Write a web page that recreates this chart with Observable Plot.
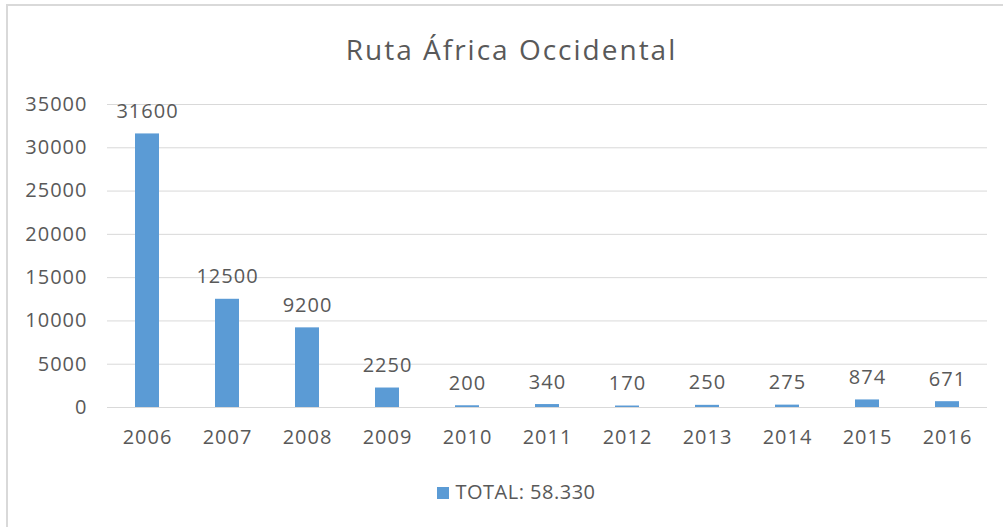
<!DOCTYPE html>
<html>
<head>
<meta charset="utf-8">
<script src="https://cdn.jsdelivr.net/npm/d3@7"></script>
<script src="https://cdn.jsdelivr.net/npm/@observablehq/plot@0.6"></script>
<style>
  html, body { margin: 0; padding: 0; background: #fff; }
  #wrap { position: relative; width: 1003px; height: 527px; overflow: hidden; font-family: "Open Sans", Lato, sans-serif; }
  #border { position: absolute; left: 6px; top: 4px; width: 1010px; height: 540px; border: 2px solid #d9d9d9; box-sizing: border-box; }
  #legend { position: absolute; top: 478px; left: 15px; width: 1003px; text-align: center; font-size: 20px; color: #595959; letter-spacing: 0.5px; }
  #legend .sw { display: inline-block; width: 12px; height: 12px; background: #5b9bd5; margin-right: 6px; vertical-align: 0px; }
  svg { position: absolute; left: 0; top: 0; }
</style>
</head>
<body>
<div id="wrap">
  <div id="border"></div>
  <div id="chart"></div>
  <div id="legend"><span class="sw"></span>TOTAL: 58.330</div>
</div>
<script>
const titleText = "Ruta África Occidental";
const years = ["2006","2007","2008","2009","2010","2011","2012","2013","2014","2015","2016"];
const values = [31600, 12500, 9200, 2250, 200, 340, 170, 250, 275, 874, 671];
const yTicks = [0, 5000, 10000, 15000, 20000, 25000, 30000, 35000];

const data = years.map((y, i) => ({year: y, value: values[i]}));
const textColor = "#595959";
const font = "'Open Sans', Lato, sans-serif";

const chart = Plot.plot({
  width: 1003,
  height: 527,
  marginLeft: 107,
  marginRight: 16,
  marginTop: 104,
  marginBottom: 120,
  style: {fontFamily: font, fontSize: "20px", color: textColor, background: "transparent", letterSpacing: "1px"},
  x: {domain: years, paddingInner: 0.7, paddingOuter: 0.35, label: null},
  y: {domain: [0, 35000], ticks: yTicks, label: null},
  marks: [
    Plot.gridY(yTicks, {stroke: "#d9d9d9", strokeOpacity: 1, strokeWidth: 1}),
    Plot.barY(data, {x: "year", y: "value", fill: "#5b9bd5"}),
    Plot.text(data, {x: "year", y: "value", text: d => String(d.value), lineAnchor: "bottom", dy: -16, fill: textColor, fontSize: 20}),
    Plot.axisY(yTicks, {tickSize: 0, tickPadding: 20, tickFormat: d => String(d), fill: textColor, fontSize: 20, label: null}),
    Plot.axisX({tickSize: 0, tickPadding: 22, fill: textColor, fontSize: 20, label: null}),
    Plot.text([titleText], {frameAnchor: "top", lineAnchor: "middle", dy: -53, dx: -36, fontSize: 28, fill: textColor, className: "chart-title"})
  ]
});
chart.querySelectorAll(".chart-title text").forEach(t => t.setAttribute("letter-spacing", "2px"));
document.getElementById("chart").appendChild(chart);
</script>
</body>
</html>
